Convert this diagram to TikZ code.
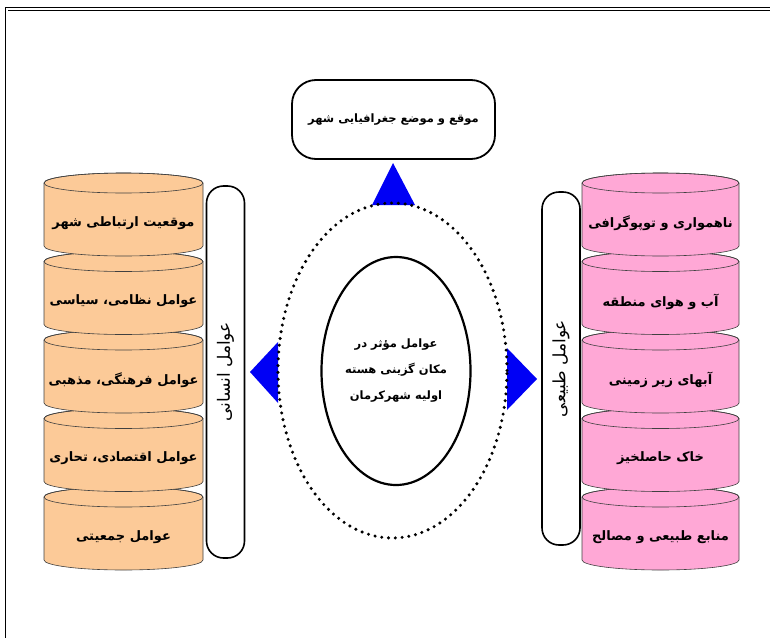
\documentclass[tikz,border=0pt]{standalone}
\usepackage{fontspec}
\usetikzlibrary{shapes.geometric}
\TeXXeTstate=1
\newfontfamily\arabicfont[Script=Arabic]{DejaVu Sans}
\definecolor{peachFill}{RGB}{252,202,152}
\definecolor{pinkFill}{RGB}{255,168,214}
\definecolor{triBlue}{RGB}{0,0,245}

\tikzset{
  cylface/.style={draw=black!75, line width=0.6pt},
  fa/.style={font=\arabicfont\bfseries\fontsize{13}{16}\selectfont},
  pill/.style={draw, line width=1.6pt, rounded corners=17pt, rotate=90,
    minimum height=38pt, inner sep=0pt,
    font=\arabicfont\fontsize{17}{20}\selectfont},
  tri/.style={fill=triBlue},
  dotring/.style={ellipse, draw, line width=3.4pt, line cap=round,
    dash pattern=on 0pt off 6.8pt, inner sep=0pt},
}

\begin{document}
\begin{tikzpicture}[x=1pt, y=-1pt]
		\useasboundingbox (0,0) rectangle (770,637);
		%%%%%%%%%%%%% frame
		\draw [double, double distance=2pt, line width=0.9pt] (6.5,660) -- (6.5,9) -- (790,9);
		%%%%%%%%%%%%% left stack
		\foreach \i/\txt in {5/{عوامل جمعیتی}, 4/{عوامل اقتصادی، تحاری}, 3/{عوامل فرهنگی، مذهبی}, 2/{عوامل نظامی، سیاسی}, 1/{موقعیت ارتباطی شهر}} {
			\pgfmathsetmacro\cy{183+78.5*(\i-1)}
			\filldraw [cylface, fill=peachFill] (44,\cy) -- (44,\cy+63) arc [start angle=180, end angle=0, x radius=79.5, y radius=10] -- (203,\cy) arc [start angle=0, end angle=-180, x radius=79.5, y radius=10] -- cycle;
			\draw [cylface] (123.5,\cy) ellipse [x radius=79.5, y radius=10];
			\node [fa] (ins\i) at (123.5,\cy+40) {\beginR\txt\endR};
		}
		%%%%%%%%%%%%% right stack
		\foreach \i/\txt in {5/{منابع طبیعی و مصالح}, 4/{خاک حاصلخیز}, 3/{آبهای زیر زمینی}, 2/{آب و هوای منطقه}, 1/{ناهمواری و توپوگرافی}} {
			\pgfmathsetmacro\cy{183+78.5*(\i-1)}
			\filldraw [cylface, fill=pinkFill] (582,\cy) -- (582,\cy+63) arc [start angle=180, end angle=0, x radius=78.5, y radius=10] -- (739,\cy) arc [start angle=0, end angle=-180, x radius=78.5, y radius=10] -- cycle;
			\draw [cylface] (660.5,\cy) ellipse [x radius=78.5, y radius=10];
			\node [fa] (tab\i) at (660.5,\cy+40) {\beginR\txt\endR};
		}
		%%%%%%%%%%%%% side labels
		\node [pill, minimum width=372pt] (ensani) at (225.5,372) {\beginR عوامل انسانی\endR};
		\node [pill, minimum width=353pt] (tabiei) at (561,368.5) {\beginR عوامل طبیعی\endR};
		%%%%%%%%%%%%% top box
		\node [draw, line width=1.8pt, rounded corners=24pt, minimum width=203pt, minimum height=79pt, font=\arabicfont\bfseries\fontsize{11.5}{14}\selectfont] (mowqe) at (393.5,119.5) {\beginR موقع و موضع جغرافیایی شهر\endR};
		%%%%%%%%%%%%% triangles
		\fill [tri] (372,205) -- (393,163) -- (415,205) -- cycle;
		\fill [tri] (278,342) -- (250,372) -- (278,403) -- cycle;
		\fill [tri] (507,348) -- (537,379) -- (507,410) -- cycle;
		%%%%%%%%%%%%% centre
		\node [dotring, minimum width=229pt, minimum height=335pt] (ring) at (392.5,370.5) {};
		\node [ellipse, draw, line width=2.2pt, minimum width=149pt, minimum height=228pt, inner sep=0pt, align=center, font=\arabicfont\bfseries\fontsize{11.5}{26}\selectfont] (core) at (396,371) {\beginR عوامل مؤثر در\endR\\\beginR مکان گزینی هسته\endR\\\beginR اولیه شهرکرمان\endR};
\end{tikzpicture}
\end{document}
